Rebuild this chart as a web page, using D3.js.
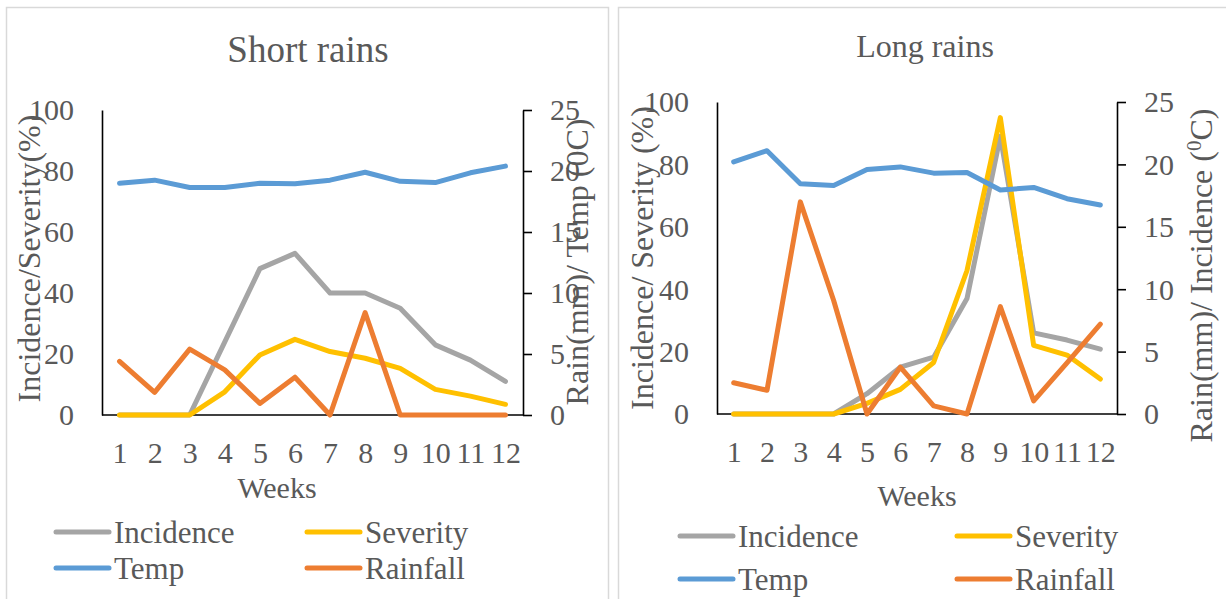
<!DOCTYPE html>
<html lang="en">
<head>
<meta charset="utf-8">
<title>short and long rains</title>
<script src="https://d3js.org/d3.v7.min.js"></script>
<style>
  body { margin: 0; background: #fff; }
  svg { display: block; }
</style>
</head>
<body>
<svg width="1226" height="599"></svg>
<script>
// data
const weeks = [1, 2, 3, 4, 5, 6, 7, 8, 9, 10, 11, 12];
const pctTicks = [0, 20, 40, 60, 80, 100];
const rightTicks = [0, 5, 10, 15, 20, 25];

// short rains
const shortIncidence = [0, 0, 0, 24, 48, 53, 40, 40, 35, 23, 18, 11];
const shortSeverity  = [0, 0, 0, 7.6, 19.7, 24.8, 20.8, 18.6, 15.3, 8.4, 6.2, 3.5];
const shortTemp      = [19.0, 19.25, 18.65, 18.65, 19.0, 18.95, 19.25, 19.9, 19.15, 19.05, 19.85, 20.4];
const shortRain      = [4.4, 1.85, 5.4, 3.7, 0.95, 3.1, 0, 8.4, 0, 0, 0, 0];

// long rains
const longIncidence = [0, 0, 0, 0, 6.5, 15, 18.2, 37, 89, 26, 23.7, 20.8];
const longSeverity  = [0, 0, 0, 0, 3.4, 7.9, 16.5, 46, 95, 22, 18.9, 11.2];
const longTemp      = [20.2, 21.1, 18.45, 18.3, 19.6, 19.8, 19.3, 19.35, 17.95, 18.15, 17.25, 16.75];
const longRain      = [2.5, 1.9, 17.0, 9.1, 0, 3.75, 0.65, 0, 8.6, 1.05, 4.1, 7.2];

const colors = {Incidence: "#A5A5A5", Severity: "#FFC000", Temp: "#5B9BD5", Rainfall: "#ED7D31"};
const FONT = "'Liberation Serif', 'DejaVu Serif', serif";
const TEXT = "#595959";

const svg = d3.select("svg");

function label(sel, size) {
  return sel.attr("font-family", FONT).attr("fill", TEXT).attr("font-size", size);
}

// panel frames
svg.append("rect").attr("x", 6.5).attr("y", 7.5).attr("width", 602).attr("height", 620)
   .attr("fill", "none").attr("stroke", "#d9d9d9").attr("stroke-width", 1.5);
svg.append("rect").attr("x", 618.5).attr("y", 7.5).attr("width", 640).attr("height", 620)
   .attr("fill", "none").attr("stroke", "#d9d9d9").attr("stroke-width", 1.5);

function drawPanel(p) {
  const x = d3.scalePoint().domain(weeks).range([p.x0, p.x1]).padding(0.5);
  const yL = d3.scaleLinear().domain([0, 100]).range([p.y1, p.y0]);
  const yR = d3.scaleLinear().domain([0, 25]).range([p.y1, p.y0]);

  // title
  label(svg.append("text"), p.titleSize)
     .attr("x", p.titleX).attr("y", p.titleY)
     .attr("text-anchor", "middle")
     .text(p.title);

  // left axis
  const gl = svg.append("g").attr("transform", `translate(${p.x0},0)`)
     .call(d3.axisLeft(yL).tickValues(pctTicks).tickSize(0).tickSizeOuter(0).tickPadding(28));
  // right axis
  const gr = svg.append("g").attr("transform", `translate(${p.x1},0)`)
     .call(d3.axisRight(yR).tickValues(rightTicks).tickSize(9).tickSizeOuter(0).tickPadding(18));
  // bottom axis
  const gb = svg.append("g").attr("transform", `translate(0,${p.y1})`)
     .call(d3.axisBottom(x).tickSize(0).tickSizeOuter(0).tickPadding(27));
  gb.select(".domain").attr("d", `M${p.x0},0H${p.x1}`);

  [gl, gr, gb].forEach(g => {
    g.attr("font-size", 30).attr("font-family", FONT);
    g.selectAll(".domain").attr("stroke", "#000").attr("stroke-width", 1.6);
    g.selectAll(".tick line").attr("stroke", "#000").attr("stroke-width", 1.6);
    label(g.selectAll("text"), 30);
  });
  gl.selectAll("text").attr("dy", "0.33em");
  gr.selectAll("text").attr("dy", "0.33em");

  // axis titles
  label(svg.append("text"), 32)
     .attr("transform", `translate(${p.ltX},${p.ltY}) rotate(-90)`)
     .attr("text-anchor", "middle")
     .text(p.leftTitle);
  const rt = label(svg.append("text"), 32)
     .attr("transform", `translate(${p.rtX},${p.rtY}) rotate(-90)`)
     .attr("text-anchor", "middle");
  rt.append("tspan").text(p.rightTitle[0]);
  rt.append("tspan").attr("dy", p.rightSup ? -11 : 0)
    .attr("font-size", p.rightSup ? 21 : 32).text(p.rightTitle[1]);
  rt.append("tspan").attr("dy", p.rightSup ? 11 : 0).text(p.rightTitle[2]);

  label(svg.append("text"), 30)
     .attr("x", p.weeksX).attr("y", p.weeksY)
     .attr("text-anchor", "middle")
     .text("Weeks");

  // series
  const series = [
    {name: "Incidence", values: p.incidence, y: yL},
    {name: "Severity", values: p.severity, y: yL},
    {name: "Temp", values: p.temp, y: yR},
    {name: "Rainfall", values: p.rain, y: yR}
  ];
  series.forEach(s => {
    const line = d3.line().x((d, i) => x(weeks[i])).y(d => s.y(d));
    svg.append("path").attr("d", line(s.values))
       .attr("fill", "none").attr("stroke", colors[s.name])
       .attr("stroke-width", 5).attr("stroke-linejoin", "round").attr("stroke-linecap", "round");
  });

  // legend
  const leg = [
    {name: "Incidence", lx: p.legX[0], ly: p.legY[0]},
    {name: "Severity", lx: p.legX[1], ly: p.legY[0]},
    {name: "Temp", lx: p.legX[0], ly: p.legY[1]},
    {name: "Rainfall", lx: p.legX[1], ly: p.legY[1]}
  ];
  leg.forEach(l => {
    svg.append("line").attr("x1", l.lx).attr("x2", l.lx + 53)
       .attr("y1", l.ly).attr("y2", l.ly)
       .attr("stroke", colors[l.name]).attr("stroke-width", 5).attr("stroke-linecap", "round");
    label(svg.append("text"), 31)
       .attr("x", l.lx + 58).attr("y", l.ly + 10.5)
       .text(l.name);
  });
}

drawPanel({
  x0: 102, x1: 523, y0: 110, y1: 415,
  title: "Short rains", titleX: 308, titleY: 62, titleSize: 37,
  leftTitle: "Incidence/Severity(%)", ltX: 40, ltY: 258.5,
  rightTitle: ["Rain(mm)/ Temp (", "0", "C)"], rightSup: false, rtX: 588, rtY: 262,
  weeksX: 277, weeksY: 498,
  incidence: shortIncidence, severity: shortSeverity, temp: shortTemp, rain: shortRain,
  legX: [56, 307], legY: [532, 568]
});

drawPanel({
  x0: 717, x1: 1117, y0: 102, y1: 414,
  title: "Long rains", titleX: 925, titleY: 57, titleSize: 32,
  leftTitle: "Incidence/ Severity (%)", ltX: 653, ltY: 258,
  rightTitle: ["Rain(mm)/ Incidence (", "0", "C)"], rightSup: true, rtX: 1212, rtY: 275.5,
  weeksX: 917, weeksY: 506,
  incidence: longIncidence, severity: longSeverity, temp: longTemp, rain: longRain,
  legX: [680, 957], legY: [536, 579]
});
</script>
</body>
</html>
